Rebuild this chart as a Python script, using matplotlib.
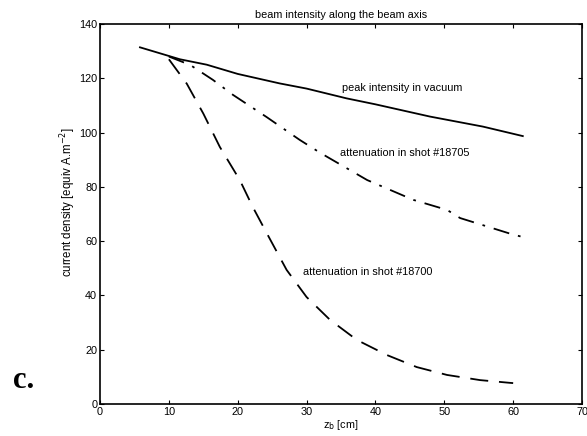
import numpy as np
import matplotlib
matplotlib.use('Agg')
import matplotlib.pyplot as plt

matplotlib.rcParams['font.family'] = ['Liberation Sans', 'DejaVu Sans']

# peak intensity in vacuum
z_vac = [5.8, 11.6, 15.5, 20, 26.1, 30, 35.8, 40, 47.9, 55.6, 61.4]
j_vac = [131.4, 127.0, 125.0, 121.6, 118.1, 116.2, 112.6, 110.4, 105.9, 102.2, 98.7]

# attenuation in shot #18705
z_705 = [10, 13.1, 16.4, 19.3, 24.2, 29, 32, 38.8, 45.5, 50.4, 52.3, 59.5, 61.4]
j_705 = [128, 124.9, 119.4, 113.9, 105.7, 97.3, 92.5, 82.5, 75.2, 71.5, 68.5, 62.8, 61.5]

# attenuation in shot #18700
z_700 = [10, 12.6, 15, 17.4, 20.3, 22.2, 24.2, 27.1, 30, 33.4, 37.3, 41.7, 46, 50.4, 55.2, 59.5, 60]
j_700 = [127, 118, 107, 94.7, 82.5, 72.5, 63, 49.4, 39.4, 31, 23.6, 18, 13.6, 10.7, 8.8, 7.8, 7.7]

fig = plt.figure(figsize=(5.87, 4.36), dpi=100)
ax = fig.add_axes([0.1704, 0.0734, 0.8211, 0.8716])

ax.plot(z_vac, j_vac, 'k-', lw=1.3)
ax.plot(z_705, j_705, 'k', lw=1.3, dashes=(9, 5, 1.5, 5))
ax.plot(z_700, j_700, 'k', lw=1.3, dashes=(10, 6))

fs = 7.8
ax.text(35.1, 116.4, 'peak intensity in vacuum', fontsize=fs, va='center')
ax.text(34.9, 92.5, 'attenuation in shot #18705', fontsize=fs, va='center')
ax.text(29.5, 48.6, 'attenuation in shot #18700', fontsize=fs, va='center')

ax.set_xlim(0, 70)
ax.set_ylim(0, 140)
ax.set_xticks(range(0, 71, 10))
ax.set_yticks(range(0, 141, 20))
ax.tick_params(direction='in', top=True, right=True, labelsize=fs, length=3, pad=2)
for s in ax.spines.values():
    s.set_linewidth(1.2)

ax.set_title('beam intensity along the beam axis', fontsize=fs, pad=4)
ax.set_xlabel(r'z$_{\rm b}$ [cm]', fontsize=fs, labelpad=1)
ax.set_ylabel(r'current density [equiv A.m$^{-2}$]', fontsize=8.3, labelpad=4)
ax.yaxis.set_label_coords(-0.045, 0.53)

fig.text(0.022, 0.11, 'c.', fontsize=22, fontweight='bold', family='Liberation Serif')

plt.savefig('out.png', dpi=100)
